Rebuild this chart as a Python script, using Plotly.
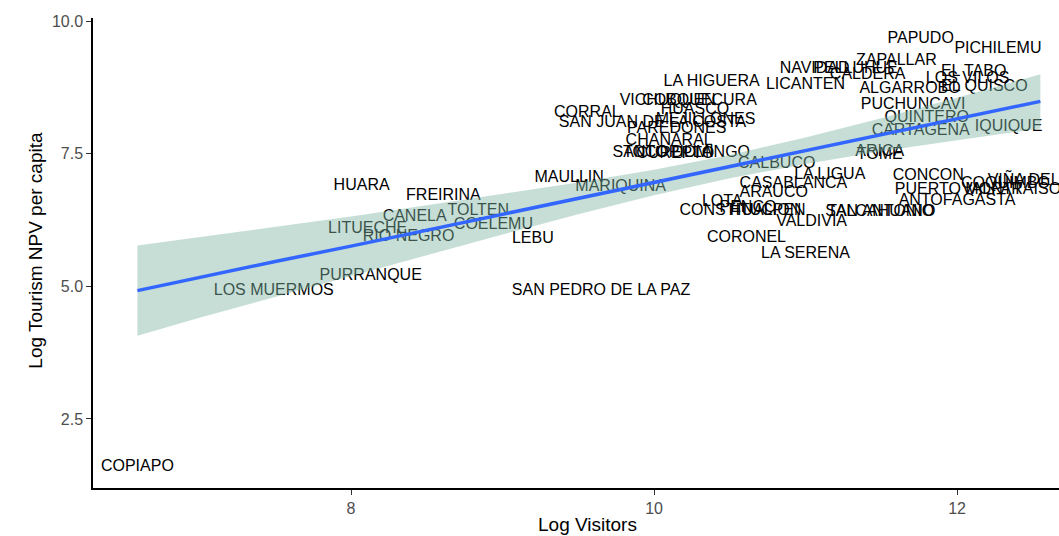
import plotly.graph_objects as go

# Communes: log visitors (x) vs log tourism NPV per capita (y)
towns = [
    "COPIAPO", "LOS MUERMOS", "PURRANQUE", "HUARA", "FREIRINA", "CANELA", "TOLTEN",
    "LITUECHE", "RIO NEGRO", "COELEMU", "LEBU", "SAN PEDRO DE LA PAZ", "MAULLIN",
    "MARIQUINA", "CORRAL", "SAN JUAN DE LA COSTA", "VICHUQUEN", "COBQUECURA", "HUASCO",
    "MEJILLONES", "PAREDONES", "CHANARAL", "SANTO DOMINGO", "TOCOPILLA", "CUREPTO",
    "LA HIGUERA", "LICANTEN", "NAVIDAD", "PELLUHUE", "CALDERA", "ZAPALLAR", "PAPUDO",
    "PICHILEMU", "EL TABO", "LOS VILOS", "EL QUISCO", "ALGARROBO", "PUCHUNCAVI",
    "QUINTERO", "CARTAGENA", "IQUIQUE", "ARICA", "TOME", "CALBUCO", "LA LIGUA",
    "CASABLANCA", "ARAUCO", "LOTA", "CONSTITUCION", "PENCO", "HUALPEN", "VALDIVIA",
    "CORONEL", "LA SERENA", "SAN ANTONIO", "TALCAHUANO", "CONCON", "PUERTO MONTT",
    "ANTOFAGASTA", "VALPARAISO", "COQUIMBO", "VIÑA DEL MAR",
]
log_visitors = [
    6.59, 7.49, 8.13, 8.07, 8.61, 8.42, 8.84,
    8.11, 8.38, 8.94, 9.20, 9.65, 9.44,
    9.78, 9.56, 9.99, 10.09, 10.30, 10.27,
    10.34, 10.15, 10.10, 10.18, 10.09, 10.14,
    10.38, 11.00, 11.06, 11.33, 11.41, 11.60, 11.76,
    12.27, 12.11, 12.07, 12.18, 11.69, 11.71,
    11.80, 11.76, 12.34, 11.49, 11.49, 10.81, 11.16,
    10.92, 10.79, 10.45, 10.57, 10.62, 10.75, 11.04,
    10.61, 11.00, 11.49, 11.50, 11.81, 12.01,
    12.00, 12.36, 12.32, 12.57,
]
log_npv = [
    1.60, 4.92, 5.19, 6.89, 6.70, 6.30, 6.43,
    6.08, 5.94, 6.15, 5.89, 4.92, 7.04,
    6.87, 8.28, 8.08, 8.49, 8.49, 8.32,
    8.13, 7.96, 7.74, 7.51, 7.51, 7.49,
    8.85, 8.79, 9.11, 9.11, 8.98, 9.26, 9.66,
    9.47, 9.04, 8.91, 8.77, 8.72, 8.43,
    8.17, 7.94, 8.00, 7.53, 7.47, 7.30, 7.11,
    6.94, 6.77, 6.60, 6.42, 6.47, 6.42, 6.21,
    5.91, 5.62, 6.40, 6.40, 7.08, 6.81,
    6.62, 6.81, 6.94, 6.98,
]

# linear smoother with its confidence band
fit_x = [6.59, 7.0, 7.5, 8.0, 8.5, 9.0, 9.5, 10.0, 10.5, 11.0, 11.5, 12.0, 12.55]
fit_y = [4.92, 5.17, 5.47, 5.76, 6.06, 6.36, 6.66, 6.96, 7.26, 7.56, 7.86, 8.16, 8.49]
fit_hi = [5.77, 5.93, 6.13, 6.32, 6.53, 6.74, 6.96, 7.20, 7.48, 7.81, 8.17, 8.56, 9.00]
fit_lo = [4.07, 4.41, 4.81, 5.20, 5.59, 5.98, 6.36, 6.72, 7.04, 7.31, 7.55, 7.76, 7.98]

y_ticks = [2.5, 5.0, 7.5, 10.0]
x_ticks = [8, 10, 12]

FONT = "Liberation Sans, Arial, sans-serif"

fig = go.Figure()

# labels first, so the ribbon tints the ones it covers
fig.add_trace(go.Scatter(
    x=log_visitors, y=log_npv, text=towns, mode="text",
    textposition="middle center",
    textfont=dict(family=FONT, size=16, color="black"),
    hoverinfo="skip",
))

fig.add_trace(go.Scatter(
    x=fit_x + fit_x[::-1], y=fit_hi + fit_lo[::-1],
    mode="lines", line=dict(width=0), fill="toself",
    fillcolor="rgba(128,182,164,0.45)", hoverinfo="skip",
))

fig.add_trace(go.Scatter(
    x=fit_x, y=fit_y, mode="lines",
    line=dict(color="#3366FF", width=3.5), hoverinfo="skip",
))

axis_common = dict(
    showgrid=False, zeroline=False, showline=True, automargin=False,
    linecolor="black", linewidth=1.5, mirror=False,
    ticks="outside", ticklen=5, tickwidth=1.2, tickcolor="#333333",
    tickfont=dict(family=FONT, size=16, color="#4D4D4D"),
)

fig.update_layout(
    width=1059, height=536,
    margin=dict(l=93, r=0, t=18, b=48, pad=0),
    paper_bgcolor="white", plot_bgcolor="white",
    showlegend=False,
    xaxis=dict(
        range=[6.297, 12.673], tickvals=x_ticks, ticktext=[str(v) for v in x_ticks],
        **axis_common,
    ),
    yaxis=dict(
        range=[1.197, 10.063], tickvals=y_ticks,
        ticktext=[f"{v:.1f}" for v in y_ticks],
        **axis_common,
    ),
    annotations=[
        dict(text="Log Visitors", xref="paper", yref="paper", x=0.5124, y=-0.0775,
             xanchor="center", yanchor="middle", showarrow=False,
             font=dict(family=FONT, size=19, color="black")),
        dict(text="Log Tourism NPV per capita", xref="paper", yref="paper",
             x=-0.059, y=0.505, textangle=-90, xanchor="center", yanchor="middle",
             showarrow=False, font=dict(family=FONT, size=19, color="black")),
    ],
)

# drop the page's default body margin so the figure fills the window
fig.write_html("out.html", config={"displayModeBar": False},
               post_script="document.body.style.margin='0';")
